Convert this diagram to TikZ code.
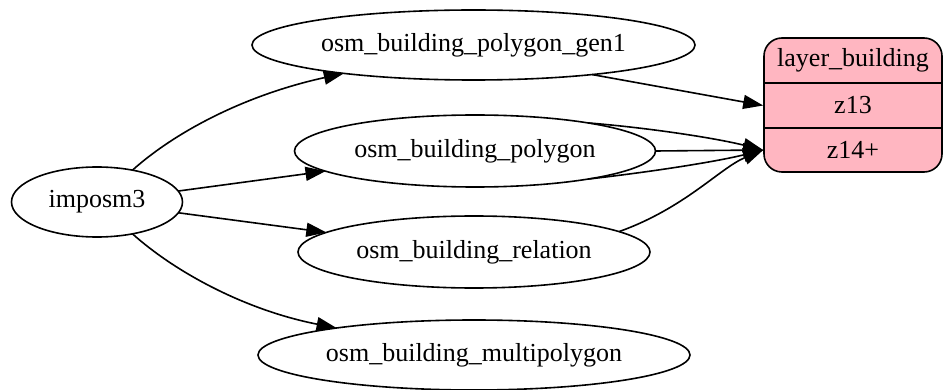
\documentclass[tikz,border=0pt]{standalone}
\usepackage{fontspec}
\setmainfont{Liberation Serif}
\usetikzlibrary{shapes.geometric,arrows.meta}
\definecolor{recpink}{RGB}{255,182,193}
\begin{document}
\begin{tikzpicture}[x=1pt,y=-1pt,
  every node/.style={font=\fontsize{26}{30}\selectfont},
  oval/.style={draw,ellipse,line width=1.6pt,inner sep=0pt,outer sep=0pt},
  arr/.style={line width=1.6pt,-{Triangle[length=20pt,width=14pt]}},
  recbox/.style={draw,line width=1.6pt,fill=recpink,rounded corners=18pt,minimum width=178pt,minimum height=134pt,inner sep=0pt},
  plain/.style={inner sep=0pt}]
\useasboundingbox (0,0) rectangle (943,390);
\node[oval,minimum width=171pt,minimum height=70pt] (imposm) at (97,202) {imposm3};
\node[oval,minimum width=443pt,minimum height=70pt] (gen1) at (473.5,45) {osm\_building\_polygon\_gen1};
\node[oval,minimum width=361pt,minimum height=72pt] (poly) at (475,151) {osm\_building\_polygon};
\node[oval,minimum width=352pt,minimum height=72pt] (rel) at (474,252) {osm\_building\_relation};
\node[oval,minimum width=432pt,minimum height=70pt] (multi) at (474,355) {osm\_building\_multipolygon};
\node[recbox] (rec) at (853,105) {};
\draw[line width=1.6pt] (rec.west |- 0,83) -- (rec.east |- 0,83);
\draw[line width=1.6pt] (rec.west |- 0,128) -- (rec.east |- 0,128);
\node[plain] (lb) at (853,60.5) {layer\_building};
\node[plain] (z13) at (853,105.5) {z13};
\node[plain] (z14) at (853,150) {z14+};
\coordinate (z13w) at (rec.west |- 0,105.5);
\coordinate (z14w) at (rec.west |- 0,150);
% edges
\draw[arr] (imposm) .. controls (175,132) and (245,95) .. (gen1);
\draw[arr] (imposm) -- (poly);
\draw[arr] (imposm) -- (rel);
\draw[arr] (imposm) .. controls (175,272) and (245,310) .. (multi);
\draw[arr] (gen1.-14) -- (z13w);
\draw[arr] (poly.14) .. controls (650,128) and (715,138) .. (z14w);
\draw[arr] (poly.east) -- (z14w);
\draw[arr] (poly.-14) .. controls (650,172) and (715,162) .. (z14w);
\draw[arr] (rel.8) .. controls (685,208) and (720,168) .. (z14w);
\end{tikzpicture}
\end{document}
